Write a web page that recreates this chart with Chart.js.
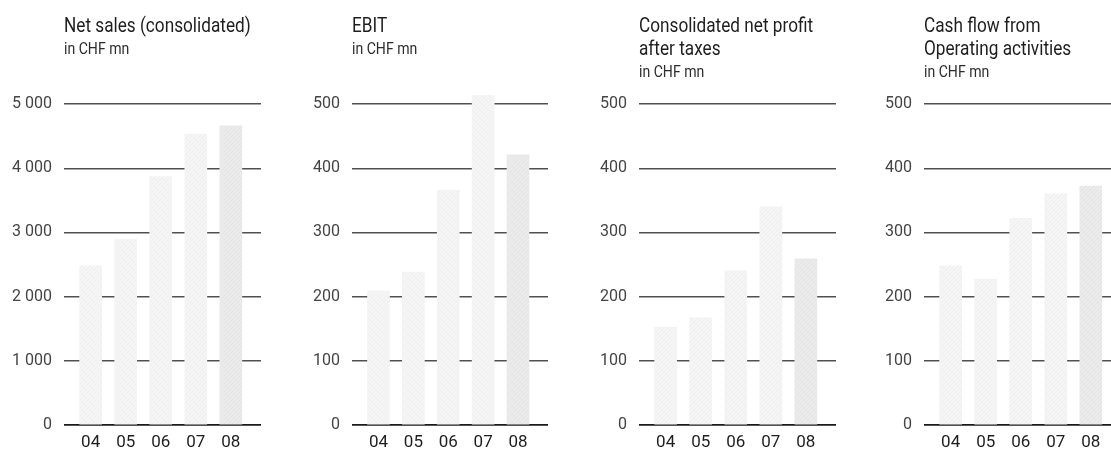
<!DOCTYPE html>
<html>
<head>
<meta charset="utf-8">
<script src="https://cdn.jsdelivr.net/npm/chart.js@4/dist/chart.umd.min.js"></script>
<style>
  html, body { margin: 0; padding: 0; background: #fff; width: 1111px; height: 450px; overflow: hidden; }
  .panel { position: absolute; top: 0; }
  .panel canvas { position: absolute; left: 0; top: 0; }
  .title { position: absolute; font-family: 'Roboto', sans-serif; color: #1e1e1e; top: 14px; white-space: nowrap; }
  .title .line { display: block; font-size: 20px; line-height: 23px; transform: scaleX(0.86); transform-origin: 0 0; }
  .title .sub { display: block; font-size: 16px; line-height: 23px; color: #2c2c2c; transform: scaleX(0.88); transform-origin: 0 0; margin-top: 0px; }
</style>
</head>
<body>
<script>
// Fiscal years shown on every panel
const years = ['04', '05', '06', '07', '08'];

// Key figures, CHF mn
const netSales = [2480, 2890, 3870, 4530, 4660];
const ebit = [209, 238, 366, 513, 421];
const netProfit = [152, 167, 240, 340, 259];
const cashFlow = [248, 227, 322, 360, 372];

// Panel headings
const titles = [
  ['Net sales (consolidated)'],
  ['EBIT'],
  ['Consolidated net profit', 'after taxes'],
  ['Cash flow from', 'Operating activities']
];
const unitLabel = 'in CHF mn';

// Y axis ranges
const yMax = [5000, 500, 500, 500];
const yStep = [1000, 100, 100, 100];

const FONT = "'Roboto', sans-serif";

// Subtle diagonal paper texture used as bar fill
function texture(base, mark, mark2) {
  const c = document.createElement('canvas');
  c.width = 8; c.height = 8;
  const g = c.getContext('2d');
  g.fillStyle = base;
  g.fillRect(0, 0, 8, 8);
  g.lineWidth = 1;
  g.strokeStyle = mark;
  g.beginPath();
  g.moveTo(-1, 9); g.lineTo(9, -1);
  g.moveTo(3, 9); g.lineTo(9, 3);
  g.moveTo(-1, 5); g.lineTo(5, -1);
  g.stroke();
  g.strokeStyle = mark2;
  g.beginPath();
  g.moveTo(-1, -1); g.lineTo(9, 9);
  g.stroke();
  return g.createPattern(c, 'repeat');
}

const lightFill = texture('#f5f5f5', '#efefef', '#f2f2f2');
const darkFill = texture('#ebebeb', '#e4e4e4', '#e8e8e8');

// Thousands separated by a space: 5000 -> "5 000"
function fmt(v) {
  return String(v).replace(/\B(?=(\d{3})+(?!\d))/g, ' ');
}

const panels = [
  { left: 0,   axisW: 64, padR: 9,  data: netSales },
  { left: 290, axisW: 62, padR: 12, data: ebit },
  { left: 580, axisW: 59, padR: 14, data: netProfit },
  { left: 860, axisW: 64, padR: 9,  data: cashFlow }
];

panels.forEach((p, i) => {
  const wrap = document.createElement('div');
  wrap.className = 'panel';
  wrap.style.left = p.left + 'px';
  wrap.style.width = '270px';
  wrap.style.height = '450px';
  document.body.appendChild(wrap);

  const cv = document.createElement('canvas');
  cv.width = 270; cv.height = 450;
  cv.style.width = '270px'; cv.style.height = '450px';
  wrap.appendChild(cv);

  const t = document.createElement('div');
  t.className = 'title';
  t.style.left = p.axisW + 'px';
  t.innerHTML = titles[i].map(s => '<span class="line">' + s + '</span>').join('') +
    '<span class="sub">' + unitLabel + '</span>';
  wrap.appendChild(t);

  new Chart(cv, {
    type: 'bar',
    data: {
      datasets: [{
        data: p.data.map((v, k) => ({ x: k, y: v })),
        backgroundColor: p.data.map((_, k) => k === p.data.length - 1 ? darkFill : lightFill),
        borderWidth: 0,
        barThickness: 22,
        clip: false
      }]
    },
    options: {
      responsive: false,
      animation: false,
      devicePixelRatio: 1,
      layout: { padding: { top: 104, right: p.padR, bottom: 0, left: 0 } },
      plugins: { legend: { display: false }, tooltip: { enabled: false } },
      scales: {
        x: {
          type: 'linear',
          min: -0.76,
          max: 4.86,
          offset: false,
          grid: { display: false },
          border: { display: false },
          afterBuildTicks: s => { s.ticks = years.map((_, k) => ({ value: k })); },
          afterFit: s => { s.height = 25; },
          ticks: {
            autoSkip: false,
            maxRotation: 0,
            padding: 0,
            color: '#1e1e1e',
            font: { family: FONT, size: 17 },
            callback: v => years[v]
          }
        },
        y: {
          min: 0,
          max: yMax[i],
          afterFit: s => { s.width = p.axisW; },
          grid: {
            drawTicks: false,
            color: c => c.tick.value === 0 ? '#1a1a1a' : '#505050',
            lineWidth: c => c.tick.value === 0 ? 1.7 : 1.4
          },
          border: { display: false },
          ticks: {
            stepSize: yStep[i],
            padding: 12,
            color: '#444',
            font: { family: FONT, size: 16 },
            callback: v => fmt(v)
          }
        }
      }
    }
  });
});
</script>
</body>
</html>
